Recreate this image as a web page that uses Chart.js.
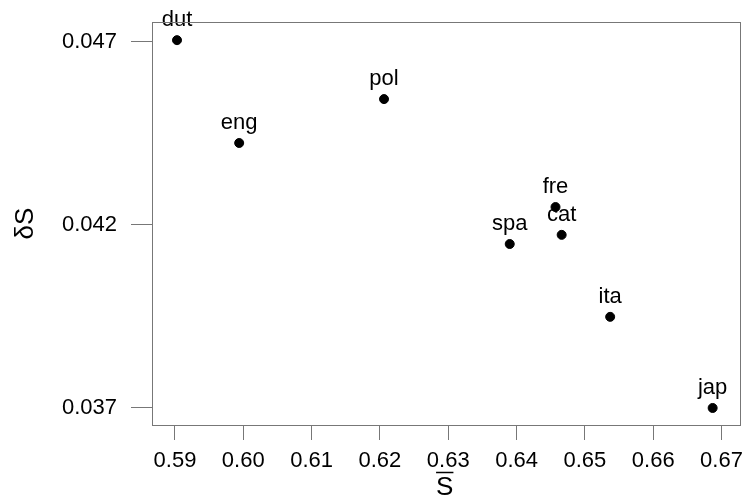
<!DOCTYPE html>
<html>
<head>
<meta charset="utf-8">
<script src="https://cdn.jsdelivr.net/npm/chart.js@4.4.1/dist/chart.umd.min.js"></script>
<style>
  html, body { margin: 0; padding: 0; background: #fff; }
  #wrap { width: 745px; height: 500px; }
</style>
</head>
<body>
<div id="wrap"><canvas id="chart" width="745" height="500"></canvas></div>
<script>
// Languages and their (mean S, delta S)
const languages = ['dut', 'eng', 'pol', 'fre', 'cat', 'spa', 'ita', 'jap'];
const meanS  = [0.5903, 0.5994, 0.6206, 0.6457, 0.6466, 0.6390, 0.6537, 0.6687];
const deltaS = [0.04705, 0.04424, 0.04544, 0.04249, 0.04173, 0.04148, 0.03949, 0.03700];

const xTicks = [0.59, 0.60, 0.61, 0.62, 0.63, 0.64, 0.65, 0.66, 0.67];
const yTicks = [0.037, 0.042, 0.047];
const xTitle = 'S';   // drawn with an overline (mean S)

const FONT = 'Liberation Sans, Arial, Helvetica, sans-serif';
const LINE = '#777';

const points = meanS.map((x, i) => ({ x, y: deltaS[i] }));

// frame round the plot area, like R's box(), plus the S-bar axis title
const boxPlugin = {
  id: 'box',
  afterDraw(chart){
    const a = chart.chartArea, ctx = chart.ctx;
    ctx.save();
    ctx.strokeStyle = LINE;
    ctx.lineWidth = 1;
    ctx.strokeRect(Math.round(a.left) + 0.5, Math.round(a.top) + 0.5,
      Math.round(a.right - a.left), Math.round(a.bottom - a.top));

    // x title with overline
    const cx = (a.left + a.right) / 2 - 1;
    ctx.font = '26px ' + FONT;
    ctx.fillStyle = '#000';
    ctx.textAlign = 'center';
    ctx.textBaseline = 'alphabetic';
    ctx.fillText(xTitle, cx, 495);
    const w = ctx.measureText(xTitle).width;
    ctx.strokeStyle = '#000';
    ctx.lineWidth = 1.5;
    ctx.beginPath();
    ctx.moveTo(cx - w / 2, 472.5);
    ctx.lineTo(cx + w / 2, 472.5);
    ctx.stroke();
    ctx.restore();
  }
};

// text label above each point
const labelPlugin = {
  id: 'pointLabels',
  afterDatasetsDraw(chart){
    const ctx = chart.ctx;
    const meta = chart.getDatasetMeta(0);
    ctx.save();
    ctx.font = '22px ' + FONT;
    ctx.fillStyle = '#000';
    ctx.textAlign = 'center';
    ctx.textBaseline = 'alphabetic';
    meta.data.forEach((el, i) => {
      ctx.fillText(languages[i], el.x, el.y - 14);
    });
    ctx.restore();
  }
};

new Chart(document.getElementById('chart').getContext('2d'), {
  type: 'scatter',
  data: {
    datasets: [{
      data: points,
      backgroundColor: '#000',
      borderColor: '#000',
      pointRadius: 4.5,
      pointHoverRadius: 4.5
    }]
  },
  options: {
    responsive: false,
    animation: false,
    layout: { padding: { top: 22, right: 5, left: 0, bottom: 0 } },
    plugins: { legend: { display: false }, tooltip: { enabled: false } },
    scales: {
      x: {
        type: 'linear',
        min: 0.58664,
        max: 0.67263,
        afterBuildTicks: (s) => { s.ticks = xTicks.map(v => ({ value: v })); },
        afterFit: (s) => { s.height = 75; s.paddingLeft = 0; s.paddingRight = 0; },
        ticks: {
          color: '#000',
          font: { family: FONT, size: 22 },
          padding: 8,
          maxRotation: 0,
          autoSkip: false,
          callback: (v) => v.toFixed(2)
        },
        grid: { drawOnChartArea: false, drawTicks: true, tickLength: 15, color: LINE },
        border: { display: false },
        title: { display: false }
      },
      y: {
        type: 'linear',
        min: 0.036535,
        max: 0.047546,
        afterBuildTicks: (s) => { s.ticks = yTicks.map(v => ({ value: v })); },
        afterFit: (s) => { s.width = 152; s.paddingTop = 0; s.paddingBottom = 0; },
        ticks: {
          color: '#000',
          font: { family: FONT, size: 22 },
          padding: 14,
          autoSkip: false,
          callback: (v) => v.toFixed(3)
        },
        grid: { drawOnChartArea: false, drawTicks: true, tickLength: 21, color: LINE },
        border: { display: false },
        title: {
          display: true,
          text: '\u03b4S',
          color: '#000',
          font: { family: FONT, size: 26 },
          padding: { top: 10, bottom: 0 }
        }
      }
    }
  },
  plugins: [boxPlugin, labelPlugin]
});
</script>
</body>
</html>
